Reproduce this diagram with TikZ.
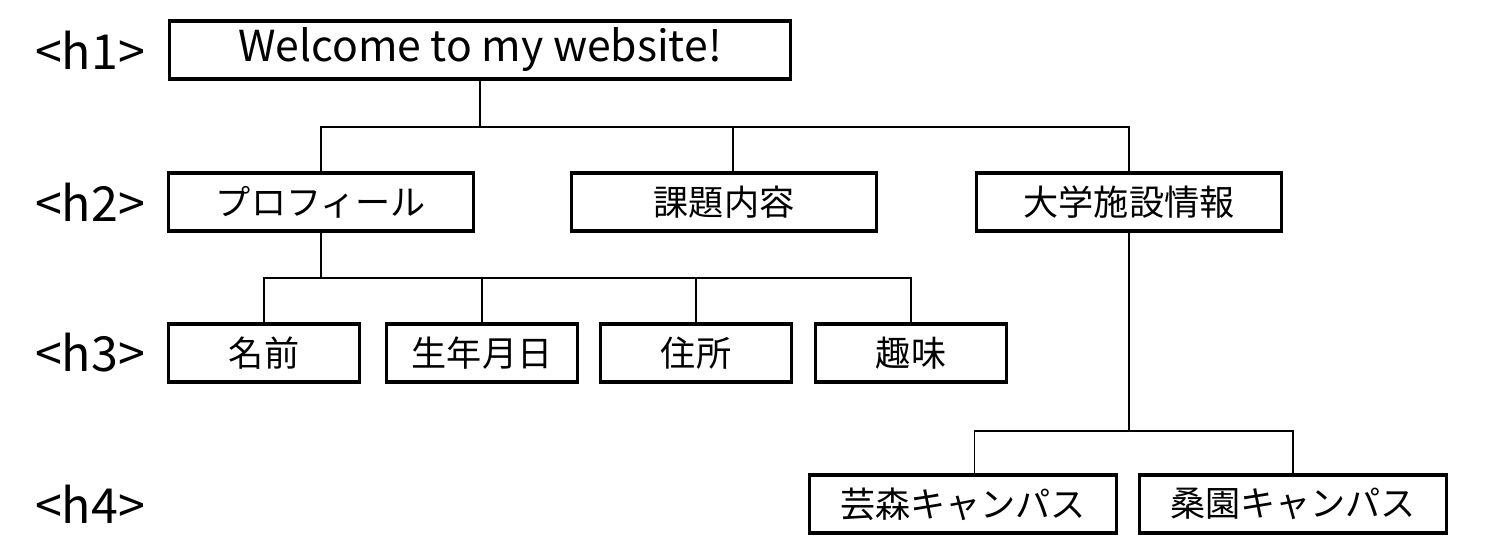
\documentclass[tikz,border=0pt]{standalone}
\usepackage{fontspec}
\setmainfont{Noto Sans CJK JP}
\begin{document}
\begin{tikzpicture}[x=0.02cm, y=-0.02cm,
  caja/.style={draw, line width=1.9pt, minimum height=1.16cm, inner sep=0pt,
    font=\fontsize{20}{24}\selectfont},
  nivel/.style={font=\fontsize{27.5}{32}\selectfont},
  rama/.style={line width=1.1pt}]
  \useasboundingbox (0,0) rectangle (1486,558);
  % las etiquetas de nivel, a la izquierda
  \node[nivel] (l1) at (90,50) {<h1>};
  \node[nivel] (l2) at (90,202) {<h2>};
  \node[nivel] (l3) at (90,353) {<h3>};
  \node[nivel] (l4) at (90,504) {<h4>};
  % el titular
  \node[caja, minimum width=12.42cm, font=\fontsize{24.3}{30}\selectfont] (tit) at (480,50) {Welcome to my website!};
  % h2
  \node[caja, minimum width=6.1cm] (prof) at (321,202) {プロフィール};
  \node[caja, minimum width=6.1cm] (kadai) at (724,202) {課題内容};
  \node[caja, minimum width=6.1cm] (univ) at (1129,202) {大学施設情報};
  % h3, bajo la プロフィール
  \node[caja, minimum width=3.82cm] (nom) at (264,353) {名前};
  \node[caja, minimum width=3.82cm] (nac) at (482,353) {生年月日};
  \node[caja, minimum width=3.82cm] (dir) at (696,353) {住所};
  \node[caja, minimum width=3.82cm] (afi) at (911,353) {趣味};
  % h4, bajo el 大学施設情報
  \node[caja, minimum width=6.14cm] (gei) at (963,504) {芸森キャンパス};
  \node[caja, minimum width=6.14cm] (sou) at (1293,504) {桑園キャンパス};
  % las ramas
  \coordinate (b1) at (481,127);
  \coordinate (b2) at (321,278);
  \coordinate (b3) at (1129,431);
  \coordinate (kk) at ([xshift=0.18cm]kadai.north);
  \coordinate (gg) at ([xshift=0.23cm]gei.north);
  \draw[rama] (tit.south) -- (tit.south |- b1);
  \draw[rama] (prof.north) |- (univ.north |- b1) -- (univ.north);
  \draw[rama] (kk) -- (kk |- b1);
  \draw[rama] (prof.south) -- (prof.south |- b2);
  \draw[rama] (nom.north) |- (afi.north |- b2) -- (afi.north);
  \draw[rama] (nac.north) -- (nac.north |- b2);
  \draw[rama] (dir.north) -- (dir.north |- b2);
  \draw[rama] (univ.south) -- (univ.south |- b3);
  \draw[rama] (gg) |- (sou.north |- b3) -- (sou.north);
\end{tikzpicture}
\end{document}
